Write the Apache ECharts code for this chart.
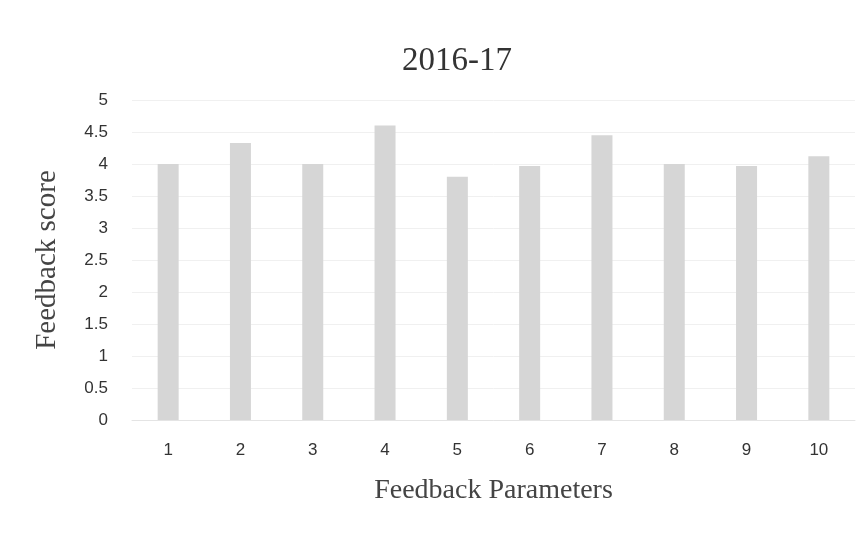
<!DOCTYPE html>
<html>
<head>
<meta charset="utf-8">
<script src="https://cdn.jsdelivr.net/npm/echarts@6/dist/echarts.min.js"></script>
<style>
  html, body { margin: 0; padding: 0; background: #fff; }
  #chart { width: 863px; height: 536px; }
</style>
</head>
<body>
<div id="chart"></div>
<script>
// datos
const parametros = ['1', '2', '3', '4', '5', '6', '7', '8', '9', '10'];
const puntuaciones = [4.0, 4.33, 4.0, 4.6, 3.8, 3.97, 4.45, 4.0, 3.97, 4.12];
const ticksY = [0, 0.5, 1, 1.5, 2, 2.5, 3, 3.5, 4, 4.5, 5];

const contenedor = document.getElementById('chart');
const miGrafico = echarts.init(contenedor);

const opciones = {
  backgroundColor: '#ffffff',
  title: {
    text: '2016-17',
    left: 452,
    top: 40,
    textAlign: 'center',
    textStyle: { fontFamily: 'Liberation Serif', fontSize: 33, fontWeight: 'normal', color: '#333' }
  },
  grid: { left: 132, right: 8, top: 100, bottom: 116 },
  xAxis: {
    type: 'category',
    data: parametros,
    name: 'Feedback Parameters',
    nameLocation: 'middle',
    nameGap: 57,
    nameTextStyle: { fontFamily: 'Liberation Serif', fontSize: 28, color: '#444' },
    axisLine: { lineStyle: { color: '#e4e4e4' } },
    axisTick: { show: false },
    axisLabel: { fontFamily: 'Liberation Sans', fontSize: 17, color: '#333', margin: 22 }
  },
  yAxis: {
    type: 'value',
    min: ticksY[0],
    max: ticksY[ticksY.length - 1],
    interval: 0.5,
    name: 'Feedback score',
    nameLocation: 'middle',
    nameGap: 70,
    nameTextStyle: { fontFamily: 'Liberation Serif', fontSize: 29, color: '#444' },
    axisLine: { show: false },
    axisTick: { show: false },
    axisLabel: { fontFamily: 'Liberation Sans', fontSize: 17, color: '#333', margin: 24 },
    splitLine: { lineStyle: { color: '#f0f0f0' } }
  },
  series: [
    {
      type: 'bar',
      data: puntuaciones,
      barWidth: 21,
      itemStyle: { color: '#d6d6d6' }
    }
  ]
};

miGrafico.setOption(opciones);
</script>
</body>
</html>
